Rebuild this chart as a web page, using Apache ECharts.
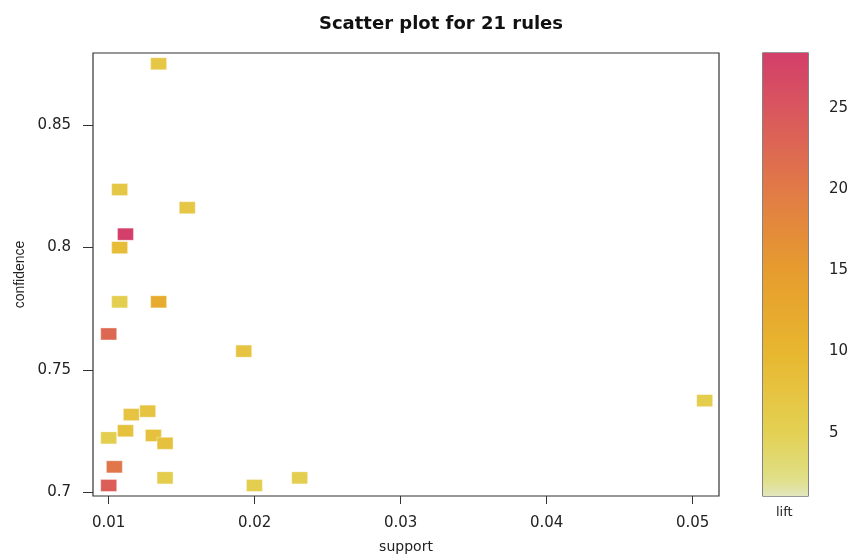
<!DOCTYPE html>
<html><head><meta charset="utf-8">
<script src="https://cdn.jsdelivr.net/npm/echarts@6/dist/echarts.min.js"></script>
<style>html,body{margin:0;padding:0;background:#fff}#c{width:851px;height:555px}</style>
</head><body><div id="c"></div>
<script>
// ---- data ----
const support = [0.01342,0.01075,0.01538,0.01115,0.01075,0.01075,0.01342,0.01000,0.01925,0.05082,0.01155,0.01267,0.01115,0.01000,0.01306,0.01386,0.01039,0.01386,0.01000,0.01998,0.02308];
const confidence = [0.8749,0.8236,0.8162,0.8054,0.7999,0.7778,0.7778,0.7647,0.7577,0.7375,0.7318,0.7332,0.7252,0.7223,0.7233,0.7201,0.7105,0.7060,0.7029,0.7029,0.7060];
const lift = [7,7,7,28.4,9,5.5,12,22.5,7.5,6,7.5,7.5,8,5.5,8,8,20.5,6,24,5.5,5.5];
const xTicks = [0.01,0.02,0.03,0.04,0.05];
const yTicks = [0.7,0.75,0.8,0.85];
const liftTicks = [5,10,15,20,25];
const liftRange = [1.1,28.4];
const xRange = [0.008925,0.0518];
const yRange = [0.6986,0.8793];
// colour scale stops (value, colour)
const stopVals = [1.1,2.1,5,10,15,20,25,28.4];
const stopCols = ['#E2E6BD','#E0DF88','#E3D153','#E8B62F','#E69C2E','#E17A47','#D9565E','#D33F6A'];

function hex2rgb(h){return [parseInt(h.substr(1,2),16),parseInt(h.substr(3,2),16),parseInt(h.substr(5,2),16)];}
function colAt(v){
  for(let i=0;i<stopVals.length-1;i++){
    if(v<=stopVals[i+1]){
      const t=(v-stopVals[i])/(stopVals[i+1]-stopVals[i]);
      const a=hex2rgb(stopCols[i]),b=hex2rgb(stopCols[i+1]);
      return 'rgb('+a.map((x,k)=>Math.round(x+(b[k]-x)*t)).join(',')+')';
    }
  }
  return stopCols[stopCols.length-1];
}
const N=60, vmColors=[];
for(let i=0;i<N;i++){vmColors.push(colAt(liftRange[0]+(liftRange[1]-liftRange[0])*i/(N-1)));}
const gradStops=[];
for(let i=0;i<N;i++){gradStops.push({offset:i/(N-1),color:vmColors[N-1-i]});}

const pts = support.map((s,i)=>[s,confidence[i],lift[i]]);
const font='DejaVu Sans';
const chart = echarts.init(document.getElementById('c'));
chart.setOption({
  animation:false,
  backgroundColor:'#fff',
  title:{text:'Scatter plot for 21 rules',left:436,top:10,textAlign:'center',
    textStyle:{fontFamily:font,fontWeight:'bold',fontSize:18,color:'#111'}},
  graphic:[
    {type:'text',left:776,top:506,style:{text:'lift',font:'13px "DejaVu Sans"',fill:'#222'}}
  ],
  grid:[
    {left:93,top:53,width:626,height:443,show:true,borderColor:'#333',borderWidth:1.2,backgroundColor:'transparent',outerBoundsMode:'none',containLabel:false},
    {left:763,top:53,width:45,height:443,show:true,borderColor:'#333',borderWidth:1.2,backgroundColor:'transparent',outerBoundsMode:'none',containLabel:false}
  ],
  xAxis:[
    {type:'value',gridIndex:0,min:xRange[0],max:xRange[1],splitLine:{show:false},
     axisLine:{show:false},
     axisTick:{show:true,length:8,lineStyle:{color:'#333'},customValues:xTicks},
     axisLabel:{customValues:xTicks,fontFamily:font,fontSize:15,color:'#222',margin:20},
     name:'support',nameLocation:'middle',nameGap:44,
     nameTextStyle:{fontFamily:font,fontSize:14,color:'#222'}},
    {type:'value',gridIndex:1,min:0,max:1,show:false}
  ],
  yAxis:[
    {type:'value',gridIndex:0,min:yRange[0],max:yRange[1],splitLine:{show:false},
     axisLine:{show:false},
     axisTick:{show:true,length:10,lineStyle:{color:'#333'},customValues:yTicks},
     axisLabel:{customValues:yTicks,fontFamily:font,fontSize:15,color:'#222',margin:22},
     name:'confidence',nameLocation:'middle',nameGap:66,nameRotate:90,
     nameTextStyle:{fontFamily:'Liberation Sans',fontSize:14,color:'#222'}},
    {type:'value',gridIndex:1,min:liftRange[0],max:liftRange[1],position:'right',splitLine:{show:false},
     axisLine:{show:false},
     axisTick:{show:true,length:10,lineStyle:{color:'#333'},customValues:liftTicks},
     axisLabel:{customValues:liftTicks,fontFamily:font,fontSize:15,color:'#222',margin:21}}
  ],
  visualMap:{show:false,type:'continuous',min:liftRange[0],max:liftRange[1],dimension:2,seriesIndex:0,
    inRange:{color:vmColors}},
  series:[
    {type:'scatter',xAxisIndex:0,yAxisIndex:0,data:pts,symbol:'rect',symbolSize:[16,12],
     itemStyle:{opacity:1,borderColor:'rgba(255,255,255,0.35)',borderWidth:1}},
    {type:'custom',xAxisIndex:1,yAxisIndex:1,data:[[0]],
     renderItem:function(params,api){
       const p0=api.coord([0,liftRange[1]]), p1=api.coord([1,liftRange[0]]);
       return {type:'rect',shape:{x:p0[0],y:p0[1],width:p1[0]-p0[0],height:p1[1]-p0[1]},
         style:{fill:new echarts.graphic.LinearGradient(0,0,0,1,gradStops)}};
     }}
  ]
});
</script></body></html>
